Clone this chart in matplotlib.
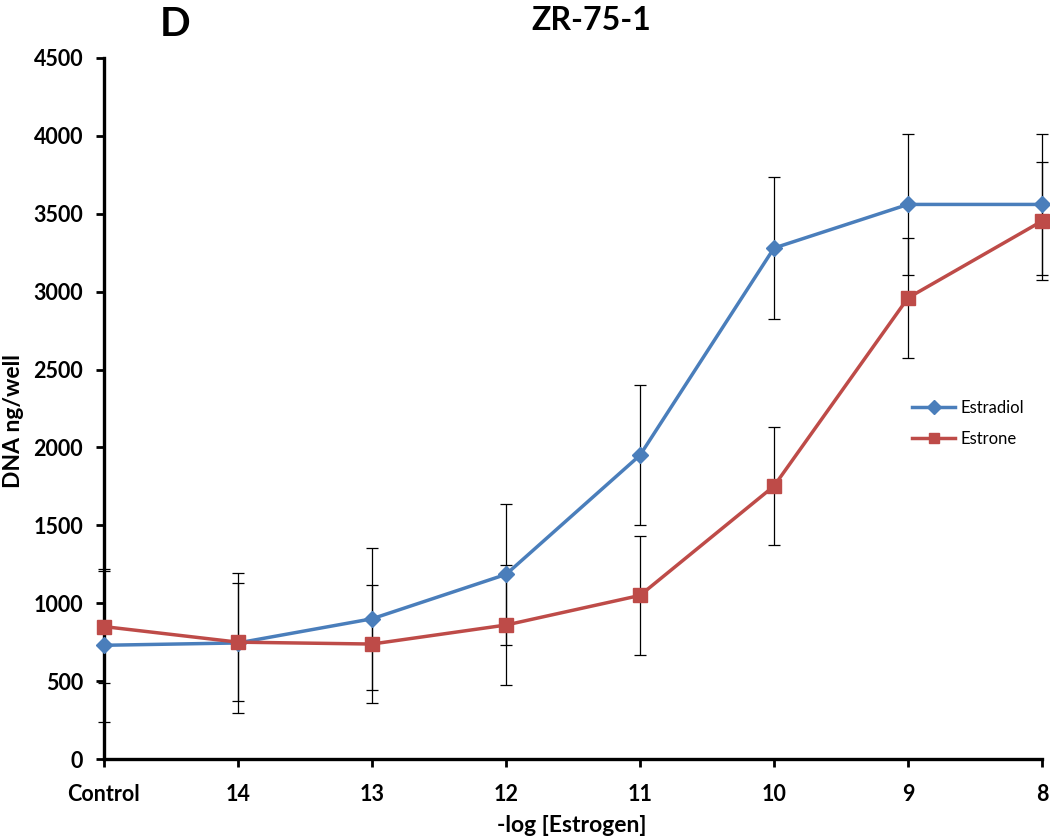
import matplotlib
matplotlib.use("Agg")
import matplotlib.pyplot as plt

categories = ["Control", "14", "13", "12", "11", "10", "9", "8"]
estradiol = [730, 745, 900, 1185, 1950, 3280, 3560, 3560]
estradiol_err = [490, 450, 455, 455, 450, 455, 452, 450]
estrone = [850, 750, 738, 860, 1050, 1752, 2960, 3453]
estrone_err = [360, 380, 380, 385, 380, 380, 385, 380]

plt.rcParams['font.family'] = ['Lato', 'DejaVu Sans']

W, H = 1050, 839
fig = plt.figure(figsize=(W/100, H/100), dpi=100)
ax = fig.add_axes([104/W, 1 - 759/H, (1042-104)/W, (759-58)/H])

x = list(range(len(categories)))
blue = '#4A7EBB'
red = '#BE4B48'

ax.errorbar(x, estradiol, yerr=estradiol_err, fmt='none', ecolor='black',
            elinewidth=0.9, capsize=4, capthick=0.9, clip_on=False, zorder=2)
ax.errorbar(x, estrone, yerr=estrone_err, fmt='none', ecolor='black',
            elinewidth=0.9, capsize=4, capthick=0.9, clip_on=False, zorder=2)
ax.plot(x, estradiol, color=blue, lw=2.5, marker='D', markersize=8,
        markerfacecolor=blue, markeredgecolor=blue, label='Estradiol', clip_on=False, zorder=3)
ax.plot(x, estrone, color=red, lw=2.5, marker='s', markersize=10,
        markerfacecolor=red, markeredgecolor=red, label='Estrone', clip_on=False, zorder=4)

ax.set_xlim(0, len(categories) - 1)
ax.set_ylim(0, 4500)
ax.set_yticks(range(0, 4501, 500))
ax.set_xticks(x)
ax.set_xticklabels(categories)

for s in ['top', 'right']:
    ax.spines[s].set_visible(False)
for s in ['left', 'bottom']:
    ax.spines[s].set_linewidth(2.4)
ax.tick_params(axis='both', direction='out', length=6, width=2, labelsize=15.5)
ax.tick_params(axis='x', pad=12)
ax.tick_params(axis='y', pad=9)
for lbl in ax.get_xticklabels() + ax.get_yticklabels():
    lbl.set_fontweight('bold')

fig.text(14/W, 1 - 421/H, 'DNA ng/well', fontsize=16.5, fontweight='bold',
         rotation=90, ha='center', va='center')
fig.text(572/W, 1 - 825/H, '-log [Estrogen]', fontsize=16.5, fontweight='bold',
         ha='center', va='center')

fig.text(591/W, 1 - 20/H, 'ZR-75-1', fontsize=23, fontweight='bold',
         ha='center', va='center')
fig.text(175/W, 1 - 24/H, 'D', fontsize=29, fontweight='bold',
         ha='center', va='center')

leg = ax.legend(loc='upper left', bbox_to_anchor=(897/W, 1 - 385/H),
                bbox_transform=fig.transFigure, frameon=False, fontsize=12,
                handlelength=2.6, labelspacing=0.9, handletextpad=0.3)
for h in leg.legend_handles:
    h.set_markersize(7)

fig.savefig('out.png', dpi=100)
